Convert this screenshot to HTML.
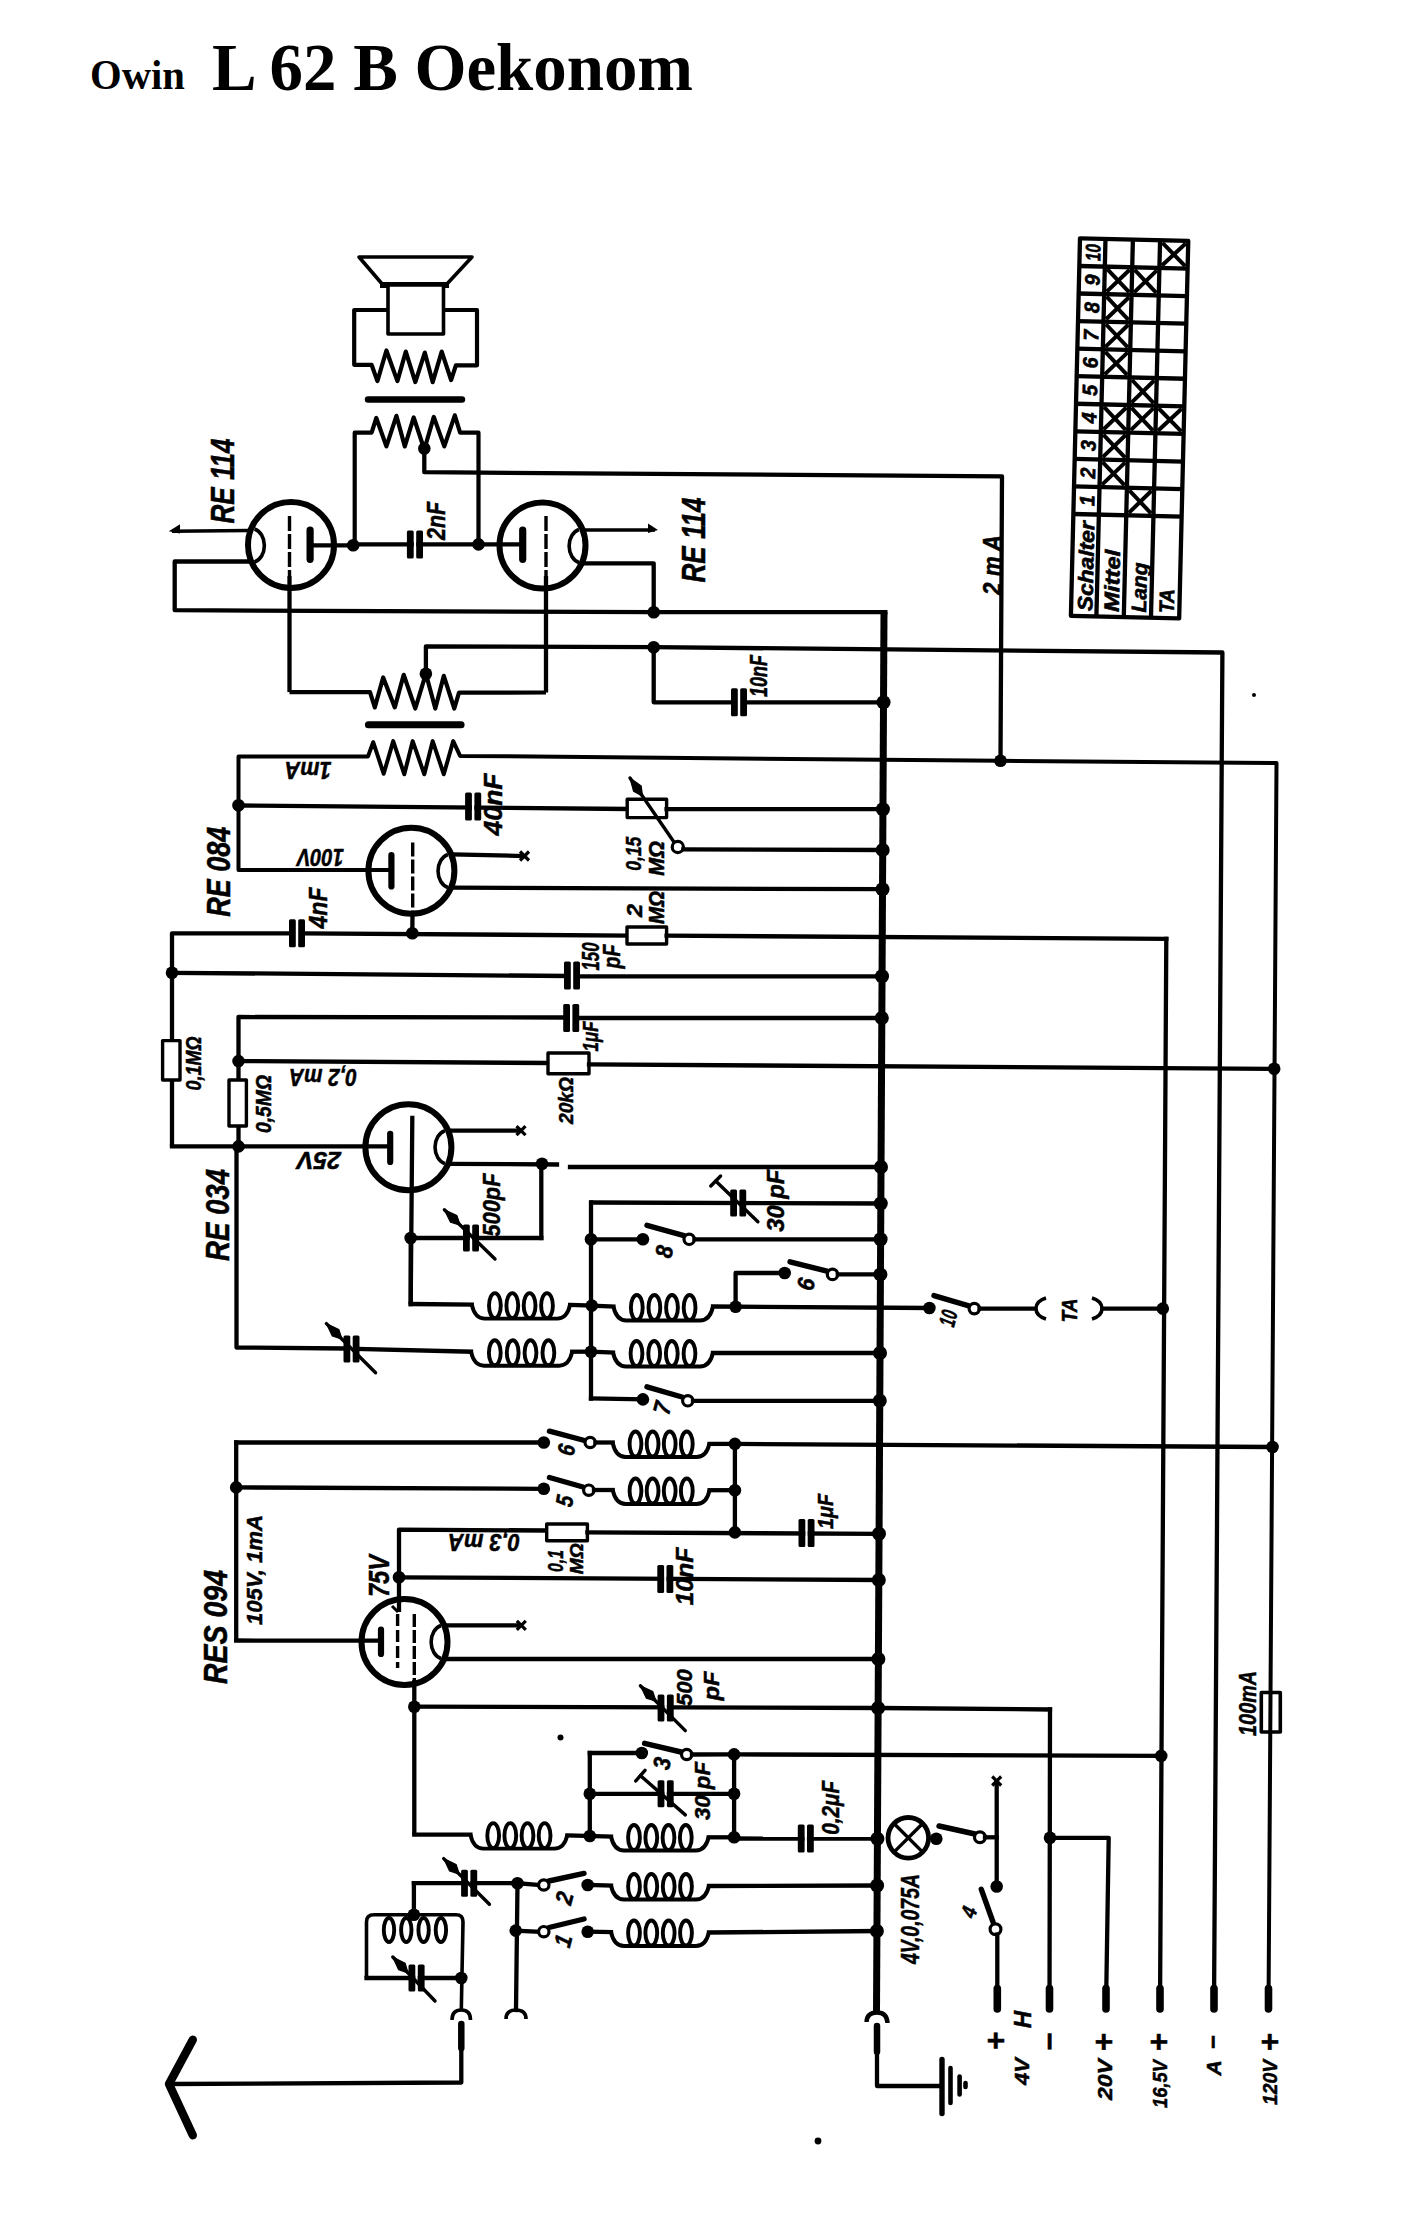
<!DOCTYPE html><html><head><meta charset="utf-8"><style>html,body{margin:0;padding:0;background:#fff;overflow:hidden}svg{display:block}</style></head><body><svg width="1424" height="2216" viewBox="0 0 1424 2216"><rect width="1424" height="2216" fill="#fff"/><g fill="none" stroke="#000" stroke-linejoin="round"><text x="90" y="89" font-family="Liberation Serif" font-weight="bold" font-size="42" textLength="95" lengthAdjust="spacingAndGlyphs" stroke="none" fill="#000">Owin</text>
<text x="212" y="90" font-family="Liberation Serif" font-weight="bold" font-size="68" textLength="481" lengthAdjust="spacingAndGlyphs" stroke="none" fill="#000">L 62 B Oekonom</text>
<polygon points="359,257 472,257 446,285 383,285" stroke-width="3.6" stroke-linecap="square"/>
<line x1="383" y1="285" x2="446" y2="285" stroke-width="6" stroke-linecap="square"/>
<rect x="388" y="285" width="55.5" height="49" fill="#fff" stroke-width="3.6"/>
<polyline points="388,310 354.2,310 354.2,364.8 371.6,364.8 377.4,381.1 386.4,350.5 397.4,381.1 405.8,351.6 415.3,382.1 424.8,352.6 432.7,382.1 441.7,351.6 451.1,380 455.9,365.3 477,365.3 477,310 443.5,310" stroke-width="4.2" stroke-linecap="butt"/>
<line x1="368" y1="399.5" x2="462" y2="399.5" stroke-width="6.4" stroke-linecap="round"/>
<polyline points="354.7,544.4 354.7,432.7 371.6,432.7 376.3,418 386.4,446.4 396.4,415.8 404.8,446.4 413.7,417.4 424.3,449.5 433.8,416.9 444.3,446.4 454.8,415.3 460.1,432.7 478.5,432.7 478.5,544.4" stroke-width="4.2" stroke-linecap="butt"/>
<circle cx="424.3" cy="448.5" r="6.3" fill="#000" stroke="none"/>
<polyline points="424.3,448.5 424.3,472.2 1002,476.3 1000.5,760.8" stroke-width="4.3" stroke-linecap="butt"/>
<circle cx="291" cy="545" r="43" fill="none" stroke-width="6"/>
<line x1="289.5" y1="516" x2="289.5" y2="576" stroke-width="3.4" stroke-dasharray="15 3"/>
<line x1="289.5" y1="576" x2="289.5" y2="692.1" stroke-width="4.3" stroke-linecap="butt"/>
<line x1="310.1" y1="530" x2="310.1" y2="559.3" stroke-width="7.2" stroke-linecap="round"/>
<line x1="313" y1="545.3" x2="353.2" y2="545.3" stroke-width="4.3" stroke-linecap="square"/>
<circle cx="353.2" cy="545.3" r="6.3" fill="#000" stroke="none"/>
<path d="M254.5,529 A13,17 0 0 1 254.5,562" stroke-width="3.6" fill="none" />
<line x1="249" y1="530.5" x2="172" y2="531.3" stroke-width="3.6" stroke-linecap="butt"/>
<polygon points="168.8,531.3 180,524.3 180,533.6" fill="#000" stroke="none"/>
<polyline points="249,561.5 174.7,561.5 174.7,610.2 653.7,612.2 887.5,612.2" stroke-width="4.3" stroke-linecap="butt"/>
<line x1="353.2" y1="544.4" x2="478.5" y2="544.4" stroke-width="4.3" stroke-linecap="square"/>
<rect x="413.8" y="540.4" width="2.4" height="8" fill="#fff" stroke="none"/>
<rect x="406.9" y="530.4" width="6.8" height="28" rx="1.5" fill="#000" stroke="none"/>
<rect x="416.2" y="530.4" width="6.8" height="28" rx="1.5" fill="#000" stroke="none"/>
<circle cx="478.5" cy="544.4" r="6.3" fill="#000" stroke="none"/>
<line x1="478.5" y1="544.4" x2="520" y2="544.4" stroke-width="4.3" stroke-linecap="square"/>
<circle cx="542.5" cy="545.5" r="43" fill="none" stroke-width="6"/>
<line x1="546" y1="516" x2="546" y2="576" stroke-width="3.4" stroke-dasharray="15 3"/>
<line x1="546" y1="576" x2="546" y2="692.5" stroke-width="4.3" stroke-linecap="butt"/>
<line x1="522.7" y1="530" x2="522.7" y2="559.3" stroke-width="7.2" stroke-linecap="round"/>
<path d="M579,529.5 A13,17 0 0 0 579,562.5" stroke-width="3.6" fill="none" />
<line x1="583" y1="530" x2="655" y2="530" stroke-width="3.6" stroke-linecap="butt"/>
<polygon points="658,530 648,523.5 648,533" fill="#000" stroke="none"/>
<polyline points="583,563.3 653.7,563.3 653.7,612.2" stroke-width="4.3" stroke-linecap="butt"/>
<circle cx="653.7" cy="612.2" r="6.3" fill="#000" stroke="none"/>
<polyline points="289.5,692.1 370,692.1 374.8,707.4 383.2,677.4 394.8,707.4 403.7,674.8 415.3,708.5 425.9,673.7 435.3,708.5 443.8,675.8 454.3,708.5 459,692.7 546,692.5" stroke-width="4.2" stroke-linecap="butt"/>
<circle cx="425.9" cy="673.7" r="6.3" fill="#000" stroke="none"/>
<polyline points="425.9,673.7 425.9,646.3 653.7,647.2 1222.4,652.5 1214,2008" stroke-width="4.3" stroke-linecap="butt"/>
<circle cx="653.7" cy="647.2" r="6.3" fill="#000" stroke="none"/>
<polyline points="653.7,647.2 653.7,702.3 734.3,702.3" stroke-width="4.3" stroke-linecap="butt"/>
<rect x="737.8" y="698.3" width="2.4" height="8" fill="#fff" stroke="none"/>
<rect x="731" y="688.3" width="6.8" height="28" rx="1.5" fill="#000" stroke="none"/>
<rect x="740.2" y="688.3" width="6.8" height="28" rx="1.5" fill="#000" stroke="none"/>
<line x1="743.8" y1="702.3" x2="883" y2="702.3" stroke-width="4.3" stroke-linecap="square"/>
<circle cx="883.5" cy="702.3" r="7" fill="#000" stroke="none"/>
<line x1="368.4" y1="724.8" x2="461.1" y2="724.8" stroke-width="7" stroke-linecap="round"/>
<polyline points="390,870.1 238.5,870.1 238.5,756.4 368,756.4 373.2,742.2 383.7,773.8 393.2,741.1 404.3,774.3 412.7,741.1 424.3,774.3 432.7,741.1 443.8,774.3 453.2,741.1 460.1,755.9 1000.5,760.8 1276.5,763 1268.5,2008" stroke-width="4" stroke-linecap="butt"/>
<circle cx="1000.5" cy="760.8" r="6.3" fill="#000" stroke="none"/>
<line x1="884" y1="612.2" x2="876.5" y2="2012" stroke-width="7" stroke-linecap="butt"/>
<circle cx="238.5" cy="805.3" r="6.3" fill="#000" stroke="none"/>
<line x1="238.5" y1="805.5" x2="627" y2="809" stroke-width="4.3" stroke-linecap="square"/>
<rect x="471.9" y="802.5" width="2.4" height="8" fill="#fff" stroke="none"/>
<rect x="465.1" y="792.5" width="6.8" height="28" rx="1.5" fill="#000" stroke="none"/>
<rect x="474.4" y="792.5" width="6.8" height="28" rx="1.5" fill="#000" stroke="none"/>
<rect x="627.2" y="799.3" width="39.4" height="18.3" fill="#fff" stroke-width="3.4"/>
<line x1="666.6" y1="809.2" x2="883" y2="809.2" stroke-width="4.3" stroke-linecap="square"/>
<circle cx="882.9" cy="809.2" r="7" fill="#000" stroke="none"/>
<line x1="630" y1="778" x2="673.6" y2="841.5" stroke-width="3.4" stroke-linecap="round"/>
<polygon points="630,778 641.2,786.1 642.5,796.1 633.6,791.3" fill="#000" stroke="#000" stroke-width="1.2"/>
<circle cx="677.8" cy="847" r="5.6" fill="#fff" stroke-width="3.2"/>
<line x1="683.4" y1="849.3" x2="883" y2="850" stroke-width="4.3" stroke-linecap="square"/>
<circle cx="882.7" cy="850" r="7" fill="#000" stroke="none"/>
<circle cx="411.4" cy="870.7" r="43" fill="none" stroke-width="6"/>
<line x1="391.4" y1="855" x2="391.4" y2="886.4" stroke-width="6.2" stroke-linecap="round"/>
<line x1="412.7" y1="842.4" x2="412.7" y2="914" stroke-width="3.4" stroke-dasharray="14 3"/>
<line x1="412.5" y1="914" x2="412.3" y2="933.3" stroke-width="4.3" stroke-linecap="butt"/>
<path d="M447.9,854.5 A13,17 0 0 0 447.9,887.5" stroke-width="3.6" fill="none" />
<line x1="452.7" y1="854.4" x2="522.8" y2="856" stroke-width="4.3" stroke-linecap="square"/>
<line x1="520" y1="851.5" x2="529" y2="860.5" stroke-width="3.2" stroke-linecap="butt"/>
<line x1="520" y1="860.5" x2="529" y2="851.5" stroke-width="3.2" stroke-linecap="butt"/>
<line x1="453" y1="887.7" x2="883" y2="889.2" stroke-width="4.3" stroke-linecap="square"/>
<circle cx="882.5" cy="889.2" r="7" fill="#000" stroke="none"/>
<circle cx="412.3" cy="933.3" r="6.3" fill="#000" stroke="none"/>
<polyline points="172,1146.4 172,933.3 290.6,933.3" stroke-width="4.3" stroke-linecap="butt"/>
<rect x="295.8" y="929.3" width="2.4" height="8" fill="#fff" stroke="none"/>
<rect x="289" y="919.3" width="6.8" height="28" rx="1.5" fill="#000" stroke="none"/>
<rect x="298.2" y="919.3" width="6.8" height="28" rx="1.5" fill="#000" stroke="none"/>
<line x1="303.3" y1="933.3" x2="627" y2="935.6" stroke-width="4.3" stroke-linecap="square"/>
<rect x="627" y="927" width="39.6" height="17" fill="#fff" stroke-width="3.4"/>
<line x1="666.6" y1="935.6" x2="1166.3" y2="938.9" stroke-width="4.3" stroke-linecap="square"/>
<line x1="1166.3" y1="938.9" x2="1160" y2="2008" stroke-width="4.3" stroke-linecap="square"/>
<circle cx="172" cy="972.8" r="6.3" fill="#000" stroke="none"/>
<line x1="172" y1="972.8" x2="567.2" y2="976" stroke-width="4.3" stroke-linecap="square"/>
<rect x="570.8" y="971.5" width="2.4" height="8" fill="#fff" stroke="none"/>
<rect x="564" y="961.5" width="6.8" height="28" rx="1.5" fill="#000" stroke="none"/>
<rect x="573.2" y="961.5" width="6.8" height="28" rx="1.5" fill="#000" stroke="none"/>
<line x1="576.7" y1="976.3" x2="883" y2="976.3" stroke-width="4.3" stroke-linecap="square"/>
<circle cx="882" cy="976.3" r="7" fill="#000" stroke="none"/>
<polyline points="238.5,1146.4 238.5,1017 565.6,1017.5" stroke-width="4.3" stroke-linecap="butt"/>
<rect x="570" y="1014" width="2.4" height="8" fill="#fff" stroke="none"/>
<rect x="563.2" y="1004" width="6.8" height="28" rx="1.5" fill="#000" stroke="none"/>
<rect x="572.4" y="1004" width="6.8" height="28" rx="1.5" fill="#000" stroke="none"/>
<line x1="576.7" y1="1018" x2="881.5" y2="1018" stroke-width="4.3" stroke-linecap="square"/>
<circle cx="881.8" cy="1018" r="7" fill="#000" stroke="none"/>
<rect x="162.6" y="1040.6" width="17.4" height="39.4" fill="#fff" stroke-width="3.4"/>
<rect x="229" y="1080" width="17.4" height="46" fill="#fff" stroke-width="3.4"/>
<circle cx="238.5" cy="1061.1" r="6.3" fill="#000" stroke="none"/>
<line x1="238.5" y1="1061.1" x2="548" y2="1063" stroke-width="4.3" stroke-linecap="square"/>
<rect x="548" y="1053" width="41" height="20.8" fill="#fff" stroke-width="3.4"/>
<line x1="589" y1="1064.4" x2="1274.2" y2="1068.8" stroke-width="4.3" stroke-linecap="square"/>
<circle cx="1274.2" cy="1068.8" r="6.3" fill="#000" stroke="none"/>
<circle cx="238.5" cy="1146.4" r="6.3" fill="#000" stroke="none"/>
<circle cx="408.4" cy="1147.2" r="43" fill="none" stroke-width="6"/>
<line x1="390.2" y1="1133.8" x2="390.2" y2="1162" stroke-width="6.2" stroke-linecap="round"/>
<line x1="172" y1="1146.4" x2="387" y2="1146.4" stroke-width="4.3" stroke-linecap="square"/>
<line x1="412.3" y1="1118" x2="410.7" y2="1304" stroke-width="4.3" stroke-linecap="square"/>
<path d="M444.9,1130.7 A13,17 0 0 0 444.9,1163.7" stroke-width="3.6" fill="none" />
<line x1="451" y1="1130.6" x2="519" y2="1130.6" stroke-width="4.3" stroke-linecap="square"/>
<line x1="516.5" y1="1126.1" x2="525.5" y2="1135.1" stroke-width="3.2" stroke-linecap="butt"/>
<line x1="516.5" y1="1135.1" x2="525.5" y2="1126.1" stroke-width="3.2" stroke-linecap="butt"/>
<line x1="449" y1="1163.8" x2="557" y2="1164.5" stroke-width="4.3" stroke-linecap="square"/>
<circle cx="542" cy="1163.8" r="6.3" fill="#000" stroke="none"/>
<line x1="570" y1="1167" x2="881.5" y2="1167" stroke-width="4.3" stroke-linecap="square"/>
<circle cx="881" cy="1167" r="7" fill="#000" stroke="none"/>
<line x1="541.3" y1="1163.8" x2="541.3" y2="1238" stroke-width="4.3" stroke-linecap="square"/>
<circle cx="410.7" cy="1238" r="6.3" fill="#000" stroke="none"/>
<line x1="410.7" y1="1238" x2="541.3" y2="1238" stroke-width="4.3" stroke-linecap="square"/>
<rect x="469.8" y="1234" width="2.4" height="8" fill="#fff" stroke="none"/>
<rect x="463" y="1224.5" width="6.8" height="27" rx="1.5" fill="#000" stroke="none"/>
<rect x="472.2" y="1224.5" width="6.8" height="27" rx="1.5" fill="#000" stroke="none"/>
<line x1="444.4" y1="1209.8" x2="495" y2="1259" stroke-width="3.4" stroke-linecap="round"/>
<polygon points="444.4,1209.8 456.9,1215.6 460.2,1225.1 450.5,1222.2" fill="#000" stroke="#000" stroke-width="1.2"/>
<line x1="592" y1="1202.5" x2="881.5" y2="1203.5" stroke-width="4.3" stroke-linecap="square"/>
<circle cx="880.8" cy="1203.5" r="7" fill="#000" stroke="none"/>
<rect x="737" y="1199" width="2.4" height="8" fill="#fff" stroke="none"/>
<rect x="730.2" y="1189.5" width="6.8" height="27" rx="1.5" fill="#000" stroke="none"/>
<rect x="739.4" y="1189.5" width="6.8" height="27" rx="1.5" fill="#000" stroke="none"/>
<line x1="715.7" y1="1181" x2="757.9" y2="1221.7" stroke-width="3.4" stroke-linecap="round"/>
<line x1="720.6" y1="1176" x2="710.8" y2="1186" stroke-width="3.4" stroke-linecap="round"/>
<line x1="591" y1="1202.5" x2="591" y2="1398.5" stroke-width="4.3" stroke-linecap="square"/>
<circle cx="591" cy="1239.3" r="6.3" fill="#000" stroke="none"/>
<line x1="591" y1="1239.3" x2="642.9" y2="1239.3" stroke-width="4.3" stroke-linecap="square"/>
<circle cx="642.9" cy="1239.3" r="6.3" fill="#000" stroke="none"/>
<line x1="647" y1="1225.3" x2="684" y2="1235.6" stroke-width="5.4" stroke-linecap="round"/>
<circle cx="689.2" cy="1239.3" r="5.2" fill="#fff" stroke-width="3.2"/>
<line x1="694.5" y1="1239.3" x2="880.2" y2="1239.3" stroke-width="4.3" stroke-linecap="square"/>
<circle cx="880.6" cy="1239.3" r="7" fill="#000" stroke="none"/>
<line x1="410.7" y1="1304" x2="471.8" y2="1304.6" stroke-width="4.3" stroke-linecap="square"/>
<path d="M471.8,1304.6 L471.8,1304.6 Q474.8,1318.6 484.8,1318.6 L557.1,1318.6 Q567.1,1318.6 570.1,1304.6 L570.1,1304.6" stroke-width="3.9" fill="none" />
<ellipse cx="494.9" cy="1305.6" rx="5.9" ry="12.5" fill="none" stroke-width="3.9"/>
<ellipse cx="512.3" cy="1305.6" rx="5.9" ry="12.5" fill="none" stroke-width="3.9"/>
<ellipse cx="529.6" cy="1305.6" rx="5.9" ry="12.5" fill="none" stroke-width="3.9"/>
<ellipse cx="547" cy="1305.6" rx="5.9" ry="12.5" fill="none" stroke-width="3.9"/>
<line x1="570.1" y1="1305" x2="591.8" y2="1305.6" stroke-width="4.3" stroke-linecap="square"/>
<circle cx="591.8" cy="1305.6" r="6.3" fill="#000" stroke="none"/>
<path d="M613.4,1306.5 L613.4,1306.5 Q616.4,1320.5 626.4,1320.5 L700,1320.5 Q710,1320.5 713,1306.5 L713,1306.5" stroke-width="3.9" fill="none" />
<ellipse cx="636.8" cy="1307.5" rx="5.9" ry="12.5" fill="none" stroke-width="3.9"/>
<ellipse cx="654.4" cy="1307.5" rx="5.9" ry="12.5" fill="none" stroke-width="3.9"/>
<ellipse cx="672" cy="1307.5" rx="5.9" ry="12.5" fill="none" stroke-width="3.9"/>
<ellipse cx="689.6" cy="1307.5" rx="5.9" ry="12.5" fill="none" stroke-width="3.9"/>
<line x1="591.8" y1="1305.6" x2="613.4" y2="1306.5" stroke-width="4.3" stroke-linecap="square"/>
<line x1="713" y1="1306.5" x2="929.4" y2="1308" stroke-width="4.3" stroke-linecap="square"/>
<circle cx="735.6" cy="1306.7" r="6.3" fill="#000" stroke="none"/>
<polyline points="735.6,1306.7 735.6,1273 784.7,1273" stroke-width="4.3" stroke-linecap="butt"/>
<circle cx="784.7" cy="1273" r="6.3" fill="#000" stroke="none"/>
<line x1="790" y1="1261.8" x2="827" y2="1271.2" stroke-width="5.4" stroke-linecap="round"/>
<circle cx="832.5" cy="1274.4" r="5.2" fill="#fff" stroke-width="3.2"/>
<line x1="837.8" y1="1274.4" x2="880.2" y2="1274.4" stroke-width="4.3" stroke-linecap="square"/>
<circle cx="880.4" cy="1274.4" r="7" fill="#000" stroke="none"/>
<circle cx="929.4" cy="1308" r="6.3" fill="#000" stroke="none"/>
<line x1="934" y1="1295.6" x2="968" y2="1305.6" stroke-width="5.4" stroke-linecap="round"/>
<circle cx="974.3" cy="1308.6" r="5.2" fill="#fff" stroke-width="3.2"/>
<line x1="979.6" y1="1308.6" x2="1034.5" y2="1308.6" stroke-width="4.3" stroke-linecap="square"/>
<path d="M1046,1298 Q1036,1301 1036,1308.6 Q1036,1316 1046,1319" stroke-width="3.6" fill="none" />
<path d="M1092,1298 Q1102,1301 1102,1308.6 Q1102,1316 1092,1319" stroke-width="3.6" fill="none" />
<line x1="1102.5" y1="1308.6" x2="1162.8" y2="1308.6" stroke-width="4.3" stroke-linecap="square"/>
<circle cx="1162.8" cy="1308.6" r="6.3" fill="#000" stroke="none"/>
<polyline points="410.7,1304 410.7,1238" stroke-width="4.3" stroke-linecap="butt"/>
<polyline points="236.5,1146.4 236.5,1347.5 346,1348.5" stroke-width="4.3" stroke-linecap="butt"/>
<rect x="350.3" y="1345" width="2.4" height="8" fill="#fff" stroke="none"/>
<rect x="343.5" y="1335.5" width="6.8" height="27" rx="1.5" fill="#000" stroke="none"/>
<rect x="352.7" y="1335.5" width="6.8" height="27" rx="1.5" fill="#000" stroke="none"/>
<line x1="326.4" y1="1323.6" x2="375.6" y2="1372.8" stroke-width="3.4" stroke-linecap="round"/>
<polygon points="326.4,1323.6 338.8,1329.5 342,1339.2 332.3,1336" fill="#000" stroke="#000" stroke-width="1.2"/>
<line x1="357" y1="1349" x2="471" y2="1351.7" stroke-width="4.3" stroke-linecap="square"/>
<path d="M471,1351.7 L471,1351.7 Q474,1365.7 484,1365.7 L559.2,1365.7 Q569.2,1365.7 572.2,1351.7 L572.2,1351.7" stroke-width="3.9" fill="none" />
<ellipse cx="494.8" cy="1352.7" rx="5.9" ry="12.5" fill="none" stroke-width="3.9"/>
<ellipse cx="512.7" cy="1352.7" rx="5.9" ry="12.5" fill="none" stroke-width="3.9"/>
<ellipse cx="530.5" cy="1352.7" rx="5.9" ry="12.5" fill="none" stroke-width="3.9"/>
<ellipse cx="548.4" cy="1352.7" rx="5.9" ry="12.5" fill="none" stroke-width="3.9"/>
<line x1="572.2" y1="1351.7" x2="591" y2="1351.7" stroke-width="4.3" stroke-linecap="square"/>
<circle cx="591" cy="1351.7" r="6.3" fill="#000" stroke="none"/>
<line x1="591" y1="1351.7" x2="613" y2="1352.5" stroke-width="4.3" stroke-linecap="square"/>
<path d="M613,1352.5 L613,1352.5 Q616,1366.5 626,1366.5 L700,1366.5 Q710,1366.5 713,1352.5 L713,1352.5" stroke-width="3.9" fill="none" />
<ellipse cx="636.5" cy="1353.5" rx="5.9" ry="12.5" fill="none" stroke-width="3.9"/>
<ellipse cx="654.2" cy="1353.5" rx="5.9" ry="12.5" fill="none" stroke-width="3.9"/>
<ellipse cx="671.8" cy="1353.5" rx="5.9" ry="12.5" fill="none" stroke-width="3.9"/>
<ellipse cx="689.5" cy="1353.5" rx="5.9" ry="12.5" fill="none" stroke-width="3.9"/>
<line x1="713" y1="1353" x2="880.2" y2="1353" stroke-width="4.3" stroke-linecap="square"/>
<circle cx="880" cy="1353" r="7" fill="#000" stroke="none"/>
<line x1="591" y1="1398.5" x2="642.9" y2="1399.4" stroke-width="4.3" stroke-linecap="square"/>
<circle cx="642.9" cy="1399.4" r="6.3" fill="#000" stroke="none"/>
<line x1="647" y1="1386.8" x2="682" y2="1397" stroke-width="5.4" stroke-linecap="round"/>
<circle cx="687.8" cy="1400.8" r="5.2" fill="#fff" stroke-width="3.2"/>
<line x1="693" y1="1400.8" x2="880.2" y2="1400.8" stroke-width="4.3" stroke-linecap="square"/>
<circle cx="879.8" cy="1400.8" r="7" fill="#000" stroke="none"/>
<line x1="236.2" y1="1442.5" x2="543.8" y2="1442.5" stroke-width="4.3" stroke-linecap="square"/>
<line x1="236.2" y1="1442.5" x2="236.2" y2="1639" stroke-width="4.3" stroke-linecap="square"/>
<circle cx="543.8" cy="1442.5" r="6.3" fill="#000" stroke="none"/>
<line x1="549.5" y1="1431.2" x2="584.5" y2="1440.5" stroke-width="5.4" stroke-linecap="round"/>
<circle cx="590.2" cy="1442.5" r="5.2" fill="#fff" stroke-width="3.2"/>
<line x1="595.5" y1="1442.5" x2="612.7" y2="1442.5" stroke-width="4.3" stroke-linecap="square"/>
<path d="M612.7,1443 L612.7,1443 Q615.7,1457 625.7,1457 L696.6,1457 Q706.6,1457 709.6,1443 L709.6,1443" stroke-width="3.9" fill="none" />
<ellipse cx="635.5" cy="1444" rx="5.9" ry="12.5" fill="none" stroke-width="3.9"/>
<ellipse cx="652.6" cy="1444" rx="5.9" ry="12.5" fill="none" stroke-width="3.9"/>
<ellipse cx="669.7" cy="1444" rx="5.9" ry="12.5" fill="none" stroke-width="3.9"/>
<ellipse cx="686.8" cy="1444" rx="5.9" ry="12.5" fill="none" stroke-width="3.9"/>
<line x1="709.6" y1="1443.9" x2="734.9" y2="1443.9" stroke-width="4.3" stroke-linecap="square"/>
<circle cx="734.9" cy="1443.9" r="6.3" fill="#000" stroke="none"/>
<line x1="734.9" y1="1443.9" x2="1272.5" y2="1447" stroke-width="4.3" stroke-linecap="square"/>
<circle cx="1272.5" cy="1447" r="6.3" fill="#000" stroke="none"/>
<circle cx="236.2" cy="1487.4" r="6.3" fill="#000" stroke="none"/>
<line x1="236.2" y1="1487.4" x2="543.8" y2="1488.8" stroke-width="4.3" stroke-linecap="square"/>
<circle cx="543.8" cy="1488.8" r="6.3" fill="#000" stroke="none"/>
<line x1="549.5" y1="1477.5" x2="583" y2="1487" stroke-width="5.4" stroke-linecap="round"/>
<circle cx="588.8" cy="1490.2" r="5.2" fill="#fff" stroke-width="3.2"/>
<line x1="594" y1="1490" x2="612.7" y2="1490" stroke-width="4.3" stroke-linecap="square"/>
<path d="M612.7,1490 L612.7,1490 Q615.7,1504 625.7,1504 L696.6,1504 Q706.6,1504 709.6,1490 L709.6,1490" stroke-width="3.9" fill="none" />
<ellipse cx="635.5" cy="1491" rx="5.9" ry="12.5" fill="none" stroke-width="3.9"/>
<ellipse cx="652.6" cy="1491" rx="5.9" ry="12.5" fill="none" stroke-width="3.9"/>
<ellipse cx="669.7" cy="1491" rx="5.9" ry="12.5" fill="none" stroke-width="3.9"/>
<ellipse cx="686.8" cy="1491" rx="5.9" ry="12.5" fill="none" stroke-width="3.9"/>
<line x1="709.6" y1="1490.2" x2="734.9" y2="1490.2" stroke-width="4.3" stroke-linecap="square"/>
<circle cx="734.9" cy="1490.2" r="6.3" fill="#000" stroke="none"/>
<line x1="734.9" y1="1443.9" x2="734.9" y2="1532.4" stroke-width="4.3" stroke-linecap="square"/>
<circle cx="734.9" cy="1532.4" r="6.3" fill="#000" stroke="none"/>
<polyline points="399,1598 399,1529.6 546.7,1530.5" stroke-width="4.3" stroke-linecap="butt"/>
<rect x="546.7" y="1524" width="40.7" height="16.8" fill="#fff" stroke-width="3.4"/>
<line x1="587.4" y1="1532.4" x2="879.6" y2="1533.8" stroke-width="4.3" stroke-linecap="square"/>
<rect x="805.3" y="1529" width="2.4" height="8" fill="#fff" stroke="none"/>
<rect x="798.5" y="1519" width="6.8" height="28" rx="1.5" fill="#000" stroke="none"/>
<rect x="807.7" y="1519" width="6.8" height="28" rx="1.5" fill="#000" stroke="none"/>
<circle cx="879" cy="1533.8" r="7" fill="#000" stroke="none"/>
<circle cx="399" cy="1577.3" r="6.3" fill="#000" stroke="none"/>
<line x1="399" y1="1577.3" x2="879.6" y2="1580" stroke-width="4.3" stroke-linecap="square"/>
<rect x="664.1" y="1575" width="2.4" height="8" fill="#fff" stroke="none"/>
<rect x="657.3" y="1565" width="6.8" height="28" rx="1.5" fill="#000" stroke="none"/>
<rect x="666.5" y="1565" width="6.8" height="28" rx="1.5" fill="#000" stroke="none"/>
<circle cx="878.8" cy="1580" r="7" fill="#000" stroke="none"/>
<circle cx="404.5" cy="1642" r="43" fill="none" stroke-width="6"/>
<line x1="381" y1="1629.5" x2="381" y2="1654" stroke-width="6.2" stroke-linecap="round"/>
<line x1="236.2" y1="1640.5" x2="378" y2="1640.7" stroke-width="4.3" stroke-linecap="square"/>
<line x1="399" y1="1598" x2="399" y2="1612" stroke-width="4.3" stroke-linecap="butt"/>
<path d="M392,1606 L398,1612" stroke-width="3" fill="none" />
<line x1="397.6" y1="1614" x2="397.6" y2="1668" stroke-width="3.4" stroke-dasharray="12 4"/>
<line x1="414.3" y1="1614" x2="414.3" y2="1680" stroke-width="3.4" stroke-dasharray="13 3"/>
<line x1="414.3" y1="1680" x2="414.3" y2="1834.6" stroke-width="4.3" stroke-linecap="butt"/>
<path d="M441,1625.5 A13,17 0 0 0 441,1658.5" stroke-width="3.6" fill="none" />
<line x1="448" y1="1625.3" x2="519" y2="1625.3" stroke-width="4.3" stroke-linecap="square"/>
<line x1="516.8" y1="1620.8" x2="525.8" y2="1629.8" stroke-width="3.2" stroke-linecap="butt"/>
<line x1="516.8" y1="1629.8" x2="525.8" y2="1620.8" stroke-width="3.2" stroke-linecap="butt"/>
<line x1="446" y1="1659" x2="879" y2="1659" stroke-width="4.3" stroke-linecap="square"/>
<circle cx="878.4" cy="1659" r="7" fill="#000" stroke="none"/>
<circle cx="414.3" cy="1706.7" r="6.3" fill="#000" stroke="none"/>
<line x1="414.3" y1="1706.7" x2="878.8" y2="1708" stroke-width="4.3" stroke-linecap="square"/>
<rect x="664.4" y="1704" width="2.4" height="8" fill="#fff" stroke="none"/>
<rect x="657.6" y="1694.5" width="6.8" height="27" rx="1.5" fill="#000" stroke="none"/>
<rect x="666.9" y="1694.5" width="6.8" height="27" rx="1.5" fill="#000" stroke="none"/>
<line x1="640.4" y1="1685.7" x2="685.3" y2="1730.6" stroke-width="3.4" stroke-linecap="round"/>
<polygon points="640.4,1685.7 652.8,1691.6 656,1701.3 646.3,1698.1" fill="#000" stroke="#000" stroke-width="1.2"/>
<circle cx="878.1" cy="1708" r="7" fill="#000" stroke="none"/>
<line x1="878.8" y1="1708" x2="1050" y2="1709.5" stroke-width="4.3" stroke-linecap="square"/>
<line x1="1050" y1="1709.5" x2="1049.5" y2="2008" stroke-width="4.3" stroke-linecap="square"/>
<line x1="589.8" y1="1753" x2="641.8" y2="1753" stroke-width="4.3" stroke-linecap="square"/>
<line x1="589.8" y1="1753" x2="589.8" y2="1836" stroke-width="4.3" stroke-linecap="square"/>
<circle cx="641.8" cy="1753" r="6.3" fill="#000" stroke="none"/>
<line x1="644.6" y1="1743.3" x2="681" y2="1752" stroke-width="5.4" stroke-linecap="round"/>
<circle cx="686.7" cy="1754.5" r="5.2" fill="#fff" stroke-width="3.2"/>
<line x1="692" y1="1754.5" x2="734.1" y2="1754.4" stroke-width="4.3" stroke-linecap="square"/>
<circle cx="734.1" cy="1754.4" r="6.3" fill="#000" stroke="none"/>
<line x1="734.1" y1="1754.4" x2="1161.2" y2="1755.9" stroke-width="4.3" stroke-linecap="square"/>
<circle cx="1161.2" cy="1755.9" r="6.3" fill="#000" stroke="none"/>
<circle cx="589.8" cy="1793.8" r="6.3" fill="#000" stroke="none"/>
<line x1="589.8" y1="1793.8" x2="734.1" y2="1793.8" stroke-width="4.3" stroke-linecap="square"/>
<rect x="664.4" y="1789.8" width="2.4" height="8" fill="#fff" stroke="none"/>
<rect x="657.6" y="1780.3" width="6.8" height="27" rx="1.5" fill="#000" stroke="none"/>
<rect x="666.9" y="1780.3" width="6.8" height="27" rx="1.5" fill="#000" stroke="none"/>
<line x1="640.4" y1="1775.6" x2="685.3" y2="1814.9" stroke-width="3.4" stroke-linecap="round"/>
<line x1="645" y1="1770.3" x2="635.8" y2="1780.9" stroke-width="3.4" stroke-linecap="round"/>
<circle cx="734.1" cy="1793.8" r="6.3" fill="#000" stroke="none"/>
<line x1="734.1" y1="1754.4" x2="734.1" y2="1837.3" stroke-width="4.3" stroke-linecap="square"/>
<line x1="414.3" y1="1834.6" x2="470.4" y2="1834.6" stroke-width="4.3" stroke-linecap="square"/>
<path d="M470.4,1834.6 L470.4,1834.6 Q473.4,1848.6 483.4,1848.6 L554.4,1848.6 Q564.4,1848.6 567.4,1834.6 L567.4,1834.6" stroke-width="3.9" fill="none" />
<ellipse cx="493.2" cy="1835.6" rx="5.9" ry="12.5" fill="none" stroke-width="3.9"/>
<ellipse cx="510.3" cy="1835.6" rx="5.9" ry="12.5" fill="none" stroke-width="3.9"/>
<ellipse cx="527.5" cy="1835.6" rx="5.9" ry="12.5" fill="none" stroke-width="3.9"/>
<ellipse cx="544.6" cy="1835.6" rx="5.9" ry="12.5" fill="none" stroke-width="3.9"/>
<line x1="567.4" y1="1835.5" x2="611" y2="1836.5" stroke-width="4.3" stroke-linecap="square"/>
<circle cx="589.8" cy="1836" r="6.3" fill="#000" stroke="none"/>
<path d="M611,1836.5 L611,1836.5 Q614,1850.5 624,1850.5 L695.8,1850.5 Q705.8,1850.5 708.8,1836.5 L708.8,1836.5" stroke-width="3.9" fill="none" />
<ellipse cx="634" cy="1837.5" rx="5.9" ry="12.5" fill="none" stroke-width="3.9"/>
<ellipse cx="651.3" cy="1837.5" rx="5.9" ry="12.5" fill="none" stroke-width="3.9"/>
<ellipse cx="668.5" cy="1837.5" rx="5.9" ry="12.5" fill="none" stroke-width="3.9"/>
<ellipse cx="685.8" cy="1837.5" rx="5.9" ry="12.5" fill="none" stroke-width="3.9"/>
<line x1="708.8" y1="1837.3" x2="734.1" y2="1837.3" stroke-width="4.3" stroke-linecap="square"/>
<circle cx="734.1" cy="1837.3" r="6.3" fill="#000" stroke="none"/>
<line x1="734.1" y1="1838.5" x2="878.8" y2="1838.7" stroke-width="4.3" stroke-linecap="square"/>
<rect x="804.5" y="1834.5" width="2.4" height="8" fill="#fff" stroke="none"/>
<rect x="797.8" y="1824.5" width="6.8" height="28" rx="1.5" fill="#000" stroke="none"/>
<rect x="807" y="1824.5" width="6.8" height="28" rx="1.5" fill="#000" stroke="none"/>
<circle cx="877.4" cy="1838.7" r="7" fill="#000" stroke="none"/>
<circle cx="908.3" cy="1837.8" r="20.3" fill="#fff" stroke-width="4.8"/>
<line x1="894.2" y1="1823.7" x2="922.4" y2="1851.9" stroke-width="3.4" stroke-linecap="butt"/>
<line x1="894.2" y1="1851.9" x2="922.4" y2="1823.7" stroke-width="3.4" stroke-linecap="butt"/>
<circle cx="936.3" cy="1838.7" r="6.3" fill="#000" stroke="none"/>
<line x1="939" y1="1826" x2="975" y2="1834" stroke-width="5.4" stroke-linecap="round"/>
<circle cx="979.9" cy="1837.3" r="5.4" fill="#fff" stroke-width="3.2"/>
<line x1="985" y1="1837.3" x2="996.7" y2="1837.3" stroke-width="4.3" stroke-linecap="square"/>
<line x1="996.7" y1="1782" x2="996.7" y2="1886.5" stroke-width="4.3" stroke-linecap="square"/>
<line x1="992.2" y1="1776.5" x2="1001.2" y2="1785.5" stroke-width="3.2" stroke-linecap="butt"/>
<line x1="992.2" y1="1785.5" x2="1001.2" y2="1776.5" stroke-width="3.2" stroke-linecap="butt"/>
<circle cx="996.7" cy="1886.5" r="6.3" fill="#000" stroke="none"/>
<line x1="981.3" y1="1889.3" x2="993" y2="1922" stroke-width="5.4" stroke-linecap="round"/>
<circle cx="995.5" cy="1929.3" r="5.4" fill="#fff" stroke-width="3.2"/>
<line x1="997.3" y1="1934.5" x2="997.3" y2="2008" stroke-width="4.3" stroke-linecap="square"/>
<circle cx="1050" cy="1837.8" r="6.3" fill="#000" stroke="none"/>
<polyline points="1050,1837.8 1108.7,1837.8 1106,2008" stroke-width="4.3" stroke-linecap="butt"/>
<rect x="1261.3" y="1692.5" width="19" height="39.5" fill="none" stroke-width="3.6"/>
<line x1="413.9" y1="1883.2" x2="517.5" y2="1883.2" stroke-width="4.3" stroke-linecap="square"/>
<rect x="467.9" y="1879.2" width="2.4" height="8" fill="#fff" stroke="none"/>
<rect x="461.1" y="1869.7" width="6.8" height="27" rx="1.5" fill="#000" stroke="none"/>
<rect x="470.4" y="1869.7" width="6.8" height="27" rx="1.5" fill="#000" stroke="none"/>
<line x1="443.7" y1="1858.6" x2="489.4" y2="1904.3" stroke-width="3.4" stroke-linecap="round"/>
<polygon points="443.7,1858.6 456.1,1864.5 459.3,1874.2 449.6,1871" fill="#000" stroke="#000" stroke-width="1.2"/>
<circle cx="517.5" cy="1883.2" r="6.3" fill="#000" stroke="none"/>
<line x1="517.5" y1="1883.2" x2="538.5" y2="1885" stroke-width="4.3" stroke-linecap="square"/>
<circle cx="543.8" cy="1885" r="5.2" fill="#fff" stroke-width="3.2"/>
<line x1="549" y1="1881" x2="584" y2="1873.4" stroke-width="5.4" stroke-linecap="round"/>
<circle cx="587.7" cy="1885" r="6.3" fill="#000" stroke="none"/>
<line x1="587.7" y1="1885" x2="611" y2="1885.5" stroke-width="4.3" stroke-linecap="square"/>
<path d="M611,1885.5 L611,1885.5 Q614,1899.5 624,1899.5 L696,1899.5 Q706,1899.5 709,1885.5 L709,1885.5" stroke-width="3.9" fill="none" />
<ellipse cx="634" cy="1886.5" rx="5.9" ry="12.5" fill="none" stroke-width="3.9"/>
<ellipse cx="651.3" cy="1886.5" rx="5.9" ry="12.5" fill="none" stroke-width="3.9"/>
<ellipse cx="668.7" cy="1886.5" rx="5.9" ry="12.5" fill="none" stroke-width="3.9"/>
<ellipse cx="686" cy="1886.5" rx="5.9" ry="12.5" fill="none" stroke-width="3.9"/>
<line x1="709" y1="1886" x2="876.8" y2="1885.5" stroke-width="4.3" stroke-linecap="square"/>
<circle cx="877.1" cy="1885.5" r="7" fill="#000" stroke="none"/>
<circle cx="515.7" cy="1930.6" r="6.3" fill="#000" stroke="none"/>
<line x1="515.7" y1="1930.6" x2="538.5" y2="1931.7" stroke-width="4.3" stroke-linecap="square"/>
<circle cx="543.8" cy="1931.7" r="5.2" fill="#fff" stroke-width="3.2"/>
<line x1="549" y1="1927.5" x2="584" y2="1919" stroke-width="5.4" stroke-linecap="round"/>
<circle cx="587.7" cy="1931.7" r="6.3" fill="#000" stroke="none"/>
<line x1="587.7" y1="1931.7" x2="611" y2="1932" stroke-width="4.3" stroke-linecap="square"/>
<path d="M611,1932 L611,1932 Q614,1946 624,1946 L696,1946 Q706,1946 709,1932 L709,1932" stroke-width="3.9" fill="none" />
<ellipse cx="634" cy="1933" rx="5.9" ry="12.5" fill="none" stroke-width="3.9"/>
<ellipse cx="651.3" cy="1933" rx="5.9" ry="12.5" fill="none" stroke-width="3.9"/>
<ellipse cx="668.7" cy="1933" rx="5.9" ry="12.5" fill="none" stroke-width="3.9"/>
<ellipse cx="686" cy="1933" rx="5.9" ry="12.5" fill="none" stroke-width="3.9"/>
<line x1="709" y1="1932.5" x2="876.8" y2="1931" stroke-width="4.3" stroke-linecap="square"/>
<circle cx="876.9" cy="1931" r="7" fill="#000" stroke="none"/>
<line x1="517.5" y1="1883.2" x2="516" y2="2010" stroke-width="4.3" stroke-linecap="square"/>
<path d="M506,2019 Q506,2010 516,2010 Q526,2010 526,2019" stroke-width="3.6" fill="none" />
<line x1="413.9" y1="1883.2" x2="413.9" y2="1914.8" stroke-width="4.3" stroke-linecap="square"/>
<circle cx="413.9" cy="1914.8" r="6.3" fill="#000" stroke="none"/>
<path d="M366.5,1978 L366.5,1922 Q366.5,1914.8 374,1914.8 L456,1914.8 Q463,1914.8 463,1922 L461.3,2010" stroke-width="3.6" fill="none" />
<ellipse cx="389" cy="1930" rx="5.2" ry="12" fill="none" stroke-width="3.9"/>
<ellipse cx="406.3" cy="1930" rx="5.2" ry="12" fill="none" stroke-width="3.9"/>
<ellipse cx="423.6" cy="1930" rx="5.2" ry="12" fill="none" stroke-width="3.9"/>
<ellipse cx="440.9" cy="1930" rx="5.2" ry="12" fill="none" stroke-width="3.9"/>
<line x1="366.5" y1="1978" x2="461.3" y2="1978" stroke-width="4.3" stroke-linecap="square"/>
<rect x="415.3" y="1974" width="2.4" height="8" fill="#fff" stroke="none"/>
<rect x="408.5" y="1964.5" width="6.8" height="27" rx="1.5" fill="#000" stroke="none"/>
<rect x="417.8" y="1964.5" width="6.8" height="27" rx="1.5" fill="#000" stroke="none"/>
<line x1="392.8" y1="1957" x2="435" y2="2001" stroke-width="3.4" stroke-linecap="round"/>
<polygon points="392.8,1957 405.1,1963.2 408,1972.9 398.5,1969.6" fill="#000" stroke="#000" stroke-width="1.2"/>
<circle cx="461.3" cy="1978" r="6.3" fill="#000" stroke="none"/>
<path d="M452,2020 Q452,2010 461.3,2010 Q470.5,2010 470.5,2020" stroke-width="3.6" fill="none" />
<line x1="461.3" y1="2024" x2="461.3" y2="2048" stroke-width="6.5" stroke-linecap="round"/>
<polyline points="461.3,2048 461.3,2082.5 168.5,2084" stroke-width="4.3" stroke-linecap="butt"/>
<polyline points="192.8,2039.7 169,2084 192.8,2135.2" stroke-width="8.4" stroke-linecap="round"/>
<path d="M866.5,2022 Q867,2012.5 877,2012.5 Q887,2012.5 887.5,2023" stroke-width="4.4" fill="none" />
<line x1="877" y1="2026" x2="877" y2="2051.7" stroke-width="6.5" stroke-linecap="round"/>
<polyline points="877,2051.7 877,2086 942,2086" stroke-width="4.3" stroke-linecap="butt"/>
<line x1="942" y1="2059.5" x2="942" y2="2113.5" stroke-width="5.4" stroke-linecap="round"/>
<line x1="950.5" y1="2068" x2="950.5" y2="2103" stroke-width="4.6" stroke-linecap="round"/>
<line x1="959.6" y1="2076.5" x2="959.6" y2="2094.5" stroke-width="4.6" stroke-linecap="round"/>
<line x1="965.5" y1="2083" x2="965.5" y2="2087" stroke-width="4.6" stroke-linecap="round"/>
<line x1="997.3" y1="1988.5" x2="997.3" y2="2009" stroke-width="7.6" stroke-linecap="round"/>
<line x1="1049.5" y1="1988.5" x2="1049.5" y2="2009" stroke-width="7.6" stroke-linecap="round"/>
<line x1="1106" y1="1988.5" x2="1106" y2="2009" stroke-width="7.6" stroke-linecap="round"/>
<line x1="1160" y1="1988.5" x2="1160" y2="2009" stroke-width="7.6" stroke-linecap="round"/>
<line x1="1214" y1="1988.5" x2="1214" y2="2009" stroke-width="7.6" stroke-linecap="round"/>
<line x1="1268.5" y1="1988.5" x2="1268.5" y2="2009" stroke-width="7.6" stroke-linecap="round"/>
<circle cx="818" cy="2141" r="3.4" fill="#000" stroke="none"/>
<circle cx="560.5" cy="1737.5" r="3" fill="#000" stroke="none"/>
<circle cx="1254" cy="695" r="2" fill="#000" stroke="none"/>
<text x="222.5" y="481" font-size="33" font-family="Liberation Sans" font-weight="bold" font-style="italic" text-anchor="middle" dominant-baseline="central" textLength="85" lengthAdjust="spacingAndGlyphs" transform="rotate(-90 222.5 481)" stroke="#000" stroke-width="0.5" fill="#000" >RE 114</text>
<text x="693" y="540" font-size="33" font-family="Liberation Sans" font-weight="bold" font-style="italic" text-anchor="middle" dominant-baseline="central" textLength="85" lengthAdjust="spacingAndGlyphs" transform="rotate(-90 693 540)" stroke="#000" stroke-width="0.5" fill="#000" >RE 114</text>
<text x="436" y="521" font-size="26.4" font-family="Liberation Sans" font-weight="bold" font-style="italic" text-anchor="middle" dominant-baseline="central" textLength="38" lengthAdjust="spacingAndGlyphs" transform="rotate(-90 436 521)" stroke="#000" stroke-width="0.5" fill="#000" >2nF</text>
<text x="758" y="676" font-size="24" font-family="Liberation Sans" font-weight="bold" font-style="italic" text-anchor="middle" dominant-baseline="central" textLength="42" lengthAdjust="spacingAndGlyphs" transform="rotate(-90 758 676)" stroke="#000" stroke-width="0.5" fill="#000" >10nF</text>
<text x="992" y="565" font-size="26.4" font-family="Liberation Sans" font-weight="bold" font-style="italic" text-anchor="middle" dominant-baseline="central" textLength="60" lengthAdjust="spacingAndGlyphs" transform="rotate(-90 992 565)" stroke="#000" stroke-width="0.5" fill="#000" >2 m A</text>
<text x="308" y="770.5" font-size="24" font-family="Liberation Sans" font-weight="bold" font-style="italic" text-anchor="middle" dominant-baseline="central" textLength="47" lengthAdjust="spacingAndGlyphs" transform="rotate(180 308 770.5)" stroke="#000" stroke-width="0.5" fill="#000" >1mA</text>
<text x="493" y="804.4" font-size="26.4" font-family="Liberation Sans" font-weight="bold" font-style="italic" text-anchor="middle" dominant-baseline="central" textLength="62" lengthAdjust="spacingAndGlyphs" transform="rotate(-90 493 804.4)" stroke="#000" stroke-width="0.5" fill="#000" >40nF</text>
<text x="320.5" y="857" font-size="24" font-family="Liberation Sans" font-weight="bold" font-style="italic" text-anchor="middle" dominant-baseline="central" textLength="47" lengthAdjust="spacingAndGlyphs" transform="rotate(180 320.5 857)" stroke="#000" stroke-width="0.5" fill="#000" >100V</text>
<text x="219.5" y="871.7" font-size="32.4" font-family="Liberation Sans" font-weight="bold" font-style="italic" text-anchor="middle" dominant-baseline="central" textLength="90" lengthAdjust="spacingAndGlyphs" transform="rotate(-90 219.5 871.7)" stroke="#000" stroke-width="0.5" fill="#000" >RE 084</text>
<text x="317.5" y="908" font-size="26.4" font-family="Liberation Sans" font-weight="bold" font-style="italic" text-anchor="middle" dominant-baseline="central" textLength="41" lengthAdjust="spacingAndGlyphs" transform="rotate(-90 317.5 908)" stroke="#000" stroke-width="0.5" fill="#000" >4nF</text>
<text x="633.4" y="853.7" font-size="21.6" font-family="Liberation Sans" font-weight="bold" font-style="italic" text-anchor="middle" dominant-baseline="central" textLength="34" lengthAdjust="spacingAndGlyphs" transform="rotate(-90 633.4 853.7)" stroke="#000" stroke-width="0.5" fill="#000" >0,15</text>
<text x="656" y="858.5" font-size="21.6" font-family="Liberation Sans" font-weight="bold" font-style="italic" text-anchor="middle" dominant-baseline="central" textLength="35" lengthAdjust="spacingAndGlyphs" transform="rotate(-90 656 858.5)" stroke="#000" stroke-width="0.5" fill="#000" >MΩ</text>
<text x="635" y="910.4" font-size="21.6" font-family="Liberation Sans" font-weight="bold" font-style="italic" text-anchor="middle" dominant-baseline="central" textLength="13" lengthAdjust="spacingAndGlyphs" transform="rotate(-90 635 910.4)" stroke="#000" stroke-width="0.5" fill="#000" >2</text>
<text x="656" y="907.5" font-size="21.6" font-family="Liberation Sans" font-weight="bold" font-style="italic" text-anchor="middle" dominant-baseline="central" textLength="33" lengthAdjust="spacingAndGlyphs" transform="rotate(-90 656 907.5)" stroke="#000" stroke-width="0.5" fill="#000" >MΩ</text>
<text x="603.5" y="956.5" font-size="24" font-family="Liberation Sans" font-weight="bold" font-style="italic" text-anchor="middle" dominant-baseline="central" textLength="28" lengthAdjust="spacingAndGlyphs" transform="rotate(-90 603.5 956.5)" stroke="#000" stroke-width="0.5" fill="#000" dy="-13">150</text>
<text x="603.5" y="956.5" font-size="24" font-family="Liberation Sans" font-weight="bold" font-style="italic" text-anchor="middle" dominant-baseline="central" textLength="24" lengthAdjust="spacingAndGlyphs" transform="rotate(-90 603.5 956.5)" stroke="#000" stroke-width="0.5" fill="#000" dy="8">pF</text>
<text x="590" y="1036.5" font-size="21.6" font-family="Liberation Sans" font-weight="bold" font-style="italic" text-anchor="middle" dominant-baseline="central" textLength="30" lengthAdjust="spacingAndGlyphs" transform="rotate(-90 590 1036.5)" stroke="#000" stroke-width="0.5" fill="#000" >1μF</text>
<text x="193.5" y="1063.5" font-size="22.2" font-family="Liberation Sans" font-weight="bold" font-style="italic" text-anchor="middle" dominant-baseline="central" textLength="54" lengthAdjust="spacingAndGlyphs" transform="rotate(-90 193.5 1063.5)" stroke="#000" stroke-width="0.5" fill="#000" >0,1MΩ</text>
<text x="263" y="1104" font-size="22.2" font-family="Liberation Sans" font-weight="bold" font-style="italic" text-anchor="middle" dominant-baseline="central" textLength="58" lengthAdjust="spacingAndGlyphs" transform="rotate(-90 263 1104)" stroke="#000" stroke-width="0.5" fill="#000" >0,5MΩ</text>
<text x="323" y="1077" font-size="24" font-family="Liberation Sans" font-weight="bold" font-style="italic" text-anchor="middle" dominant-baseline="central" textLength="68" lengthAdjust="spacingAndGlyphs" transform="rotate(180 323 1077)" stroke="#000" stroke-width="0.5" fill="#000" >0,2 mA</text>
<text x="566.3" y="1100.5" font-size="20.4" font-family="Liberation Sans" font-weight="bold" font-style="italic" text-anchor="middle" dominant-baseline="central" textLength="47" lengthAdjust="spacingAndGlyphs" transform="rotate(-90 566.3 1100.5)" stroke="#000" stroke-width="0.5" fill="#000" >20kΩ</text>
<text x="319" y="1160.7" font-size="24" font-family="Liberation Sans" font-weight="bold" font-style="italic" text-anchor="middle" dominant-baseline="central" textLength="44" lengthAdjust="spacingAndGlyphs" transform="rotate(180 319 1160.7)" stroke="#000" stroke-width="0.5" fill="#000" >25V</text>
<text x="217.5" y="1215" font-size="32.4" font-family="Liberation Sans" font-weight="bold" font-style="italic" text-anchor="middle" dominant-baseline="central" textLength="92" lengthAdjust="spacingAndGlyphs" transform="rotate(-90 217.5 1215)" stroke="#000" stroke-width="0.5" fill="#000" >RE 034</text>
<text x="491.5" y="1205" font-size="24" font-family="Liberation Sans" font-weight="bold" font-style="italic" text-anchor="middle" dominant-baseline="central" textLength="63" lengthAdjust="spacingAndGlyphs" transform="rotate(-90 491.5 1205)" stroke="#000" stroke-width="0.5" fill="#000" >500pF</text>
<text x="776" y="1200.7" font-size="24" font-family="Liberation Sans" font-weight="bold" font-style="italic" text-anchor="middle" dominant-baseline="central" textLength="62" lengthAdjust="spacingAndGlyphs" transform="rotate(-90 776 1200.7)" stroke="#000" stroke-width="0.5" fill="#000" >30 pF</text>
<text x="664" y="1251.7" font-size="24" font-family="Liberation Sans" font-weight="bold" font-style="italic" text-anchor="middle" dominant-baseline="central" textLength="12" lengthAdjust="spacingAndGlyphs" transform="rotate(-80 664 1251.7)" stroke="#000" stroke-width="0.5" fill="#000" >8</text>
<text x="806.2" y="1283.4" font-size="24" font-family="Liberation Sans" font-weight="bold" font-style="italic" text-anchor="middle" dominant-baseline="central" textLength="12" lengthAdjust="spacingAndGlyphs" transform="rotate(100 806.2 1283.4)" stroke="#000" stroke-width="0.5" fill="#000" >9</text>
<text x="948" y="1318.2" font-size="22.8" font-family="Liberation Sans" font-weight="bold" font-style="italic" text-anchor="middle" dominant-baseline="central" textLength="16" lengthAdjust="spacingAndGlyphs" transform="rotate(-75 948 1318.2)" stroke="#000" stroke-width="0.5" fill="#000" >10</text>
<text x="1068.5" y="1310.5" font-size="22.8" font-family="Liberation Sans" font-weight="bold" font-style="italic" text-anchor="middle" dominant-baseline="central" textLength="24" lengthAdjust="spacingAndGlyphs" transform="rotate(-90 1068.5 1310.5)" stroke="#000" stroke-width="0.5" fill="#000" >TA</text>
<text x="662" y="1408" font-size="24" font-family="Liberation Sans" font-weight="bold" font-style="italic" text-anchor="middle" dominant-baseline="central" textLength="12" lengthAdjust="spacingAndGlyphs" transform="rotate(-75 662 1408)" stroke="#000" stroke-width="0.5" fill="#000" >7</text>
<text x="566.2" y="1449.8" font-size="24" font-family="Liberation Sans" font-weight="bold" font-style="italic" text-anchor="middle" dominant-baseline="central" textLength="11" lengthAdjust="spacingAndGlyphs" transform="rotate(-80 566.2 1449.8)" stroke="#000" stroke-width="0.5" fill="#000" >6</text>
<text x="564.3" y="1500.9" font-size="24" font-family="Liberation Sans" font-weight="bold" font-style="italic" text-anchor="middle" dominant-baseline="central" textLength="11" lengthAdjust="spacingAndGlyphs" transform="rotate(-80 564.3 1500.9)" stroke="#000" stroke-width="0.5" fill="#000" >5</text>
<text x="254.4" y="1570" font-size="22.8" font-family="Liberation Sans" font-weight="bold" font-style="italic" text-anchor="middle" dominant-baseline="central" textLength="110" lengthAdjust="spacingAndGlyphs" transform="rotate(-90 254.4 1570)" stroke="#000" stroke-width="0.5" fill="#000" >105V, 1mA</text>
<text x="215.5" y="1627" font-size="32.4" font-family="Liberation Sans" font-weight="bold" font-style="italic" text-anchor="middle" dominant-baseline="central" textLength="114" lengthAdjust="spacingAndGlyphs" transform="rotate(-90 215.5 1627)" stroke="#000" stroke-width="0.5" fill="#000" >RES 094</text>
<text x="484" y="1542" font-size="24" font-family="Liberation Sans" font-weight="bold" font-style="italic" text-anchor="middle" dominant-baseline="central" textLength="72" lengthAdjust="spacingAndGlyphs" transform="rotate(180 484 1542)" stroke="#000" stroke-width="0.5" fill="#000" >0,3 mA</text>
<text x="554.7" y="1561" font-size="22.8" font-family="Liberation Sans" font-weight="bold" font-style="italic" text-anchor="middle" dominant-baseline="central" textLength="22" lengthAdjust="spacingAndGlyphs" transform="rotate(-90 554.7 1561)" stroke="#000" stroke-width="0.5" fill="#000" >0,1</text>
<text x="577.5" y="1558.8" font-size="18" font-family="Liberation Sans" font-weight="bold" font-style="italic" text-anchor="middle" dominant-baseline="central" textLength="31" lengthAdjust="spacingAndGlyphs" transform="rotate(-90 577.5 1558.8)" stroke="#000" stroke-width="0.5" fill="#000" >MΩ</text>
<text x="825" y="1511.5" font-size="22.8" font-family="Liberation Sans" font-weight="bold" font-style="italic" text-anchor="middle" dominant-baseline="central" textLength="35" lengthAdjust="spacingAndGlyphs" transform="rotate(-90 825 1511.5)" stroke="#000" stroke-width="0.5" fill="#000" >1μF</text>
<text x="684.4" y="1576.6" font-size="24" font-family="Liberation Sans" font-weight="bold" font-style="italic" text-anchor="middle" dominant-baseline="central" textLength="58" lengthAdjust="spacingAndGlyphs" transform="rotate(-90 684.4 1576.6)" stroke="#000" stroke-width="0.5" fill="#000" >10nF</text>
<text x="379.4" y="1576" font-size="28.8" font-family="Liberation Sans" font-weight="bold" font-style="italic" text-anchor="middle" dominant-baseline="central" textLength="42" lengthAdjust="spacingAndGlyphs" transform="rotate(-90 379.4 1576)" stroke="#000" stroke-width="0.5" fill="#000" >75V</text>
<text x="685" y="1687.6" font-size="22.2" font-family="Liberation Sans" font-weight="bold" font-style="italic" text-anchor="middle" dominant-baseline="central" textLength="37" lengthAdjust="spacingAndGlyphs" transform="rotate(-90 685 1687.6)" stroke="#000" stroke-width="0.5" fill="#000" >500</text>
<text x="711" y="1686" font-size="22.2" font-family="Liberation Sans" font-weight="bold" font-style="italic" text-anchor="middle" dominant-baseline="central" textLength="29" lengthAdjust="spacingAndGlyphs" transform="rotate(-90 711 1686)" stroke="#000" stroke-width="0.5" fill="#000" >pF</text>
<text x="661.6" y="1763.4" font-size="24" font-family="Liberation Sans" font-weight="bold" font-style="italic" text-anchor="middle" dominant-baseline="central" textLength="12" lengthAdjust="spacingAndGlyphs" transform="rotate(-80 661.6 1763.4)" stroke="#000" stroke-width="0.5" fill="#000" >3</text>
<text x="702" y="1791" font-size="22.2" font-family="Liberation Sans" font-weight="bold" font-style="italic" text-anchor="middle" dominant-baseline="central" textLength="58" lengthAdjust="spacingAndGlyphs" transform="rotate(-90 702 1791)" stroke="#000" stroke-width="0.5" fill="#000" >30 pF</text>
<text x="830.9" y="1807.7" font-size="24" font-family="Liberation Sans" font-weight="bold" font-style="italic" text-anchor="middle" dominant-baseline="central" textLength="54" lengthAdjust="spacingAndGlyphs" transform="rotate(-90 830.9 1807.7)" stroke="#000" stroke-width="0.5" fill="#000" >0,2μF</text>
<text x="909.7" y="1919" font-size="26.4" font-family="Liberation Sans" font-weight="bold" font-style="italic" text-anchor="middle" dominant-baseline="central" textLength="90" lengthAdjust="spacingAndGlyphs" transform="rotate(-90 909.7 1919)" stroke="#000" stroke-width="0.5" fill="#000" >4V,0,075A</text>
<text x="969" y="1912" font-size="21.6" font-family="Liberation Sans" font-weight="bold" font-style="italic" text-anchor="middle" dominant-baseline="central" textLength="10" lengthAdjust="spacingAndGlyphs" transform="rotate(-70 969 1912)" stroke="#000" stroke-width="0.5" fill="#000" >4</text>
<text x="564.2" y="1897.9" font-size="24" font-family="Liberation Sans" font-weight="bold" font-style="italic" text-anchor="middle" dominant-baseline="central" textLength="12" lengthAdjust="spacingAndGlyphs" transform="rotate(-75 564.2 1897.9)" stroke="#000" stroke-width="0.5" fill="#000" >2</text>
<text x="562.8" y="1940.8" font-size="24" font-family="Liberation Sans" font-weight="bold" font-style="italic" text-anchor="middle" dominant-baseline="central" textLength="12" lengthAdjust="spacingAndGlyphs" transform="rotate(-75 562.8 1940.8)" stroke="#000" stroke-width="0.5" fill="#000" >1</text>
<text x="1247.7" y="1703.4" font-size="24" font-family="Liberation Sans" font-weight="bold" font-style="italic" text-anchor="middle" dominant-baseline="central" textLength="65" lengthAdjust="spacingAndGlyphs" transform="rotate(-90 1247.7 1703.4)" stroke="#000" stroke-width="0.5" fill="#000" >100mA</text>
<text x="995.5" y="2040.7" font-size="31.2" font-family="Liberation Sans" font-weight="bold" font-style="normal" text-anchor="middle" dominant-baseline="central" transform="rotate(-90 995.5 2040.7)" stroke="#000" stroke-width="0.5" fill="#000" >+</text>
<text x="1021.5" y="2071.5" font-size="21" font-family="Liberation Sans" font-weight="bold" font-style="italic" text-anchor="middle" dominant-baseline="central" textLength="27" lengthAdjust="spacingAndGlyphs" transform="rotate(-90 1021.5 2071.5)" stroke="#000" stroke-width="0.5" fill="#000" >4V</text>
<text x="1022.9" y="2019.5" font-size="24" font-family="Liberation Sans" font-weight="bold" font-style="italic" text-anchor="middle" dominant-baseline="central" transform="rotate(-90 1022.9 2019.5)" stroke="#000" stroke-width="0.5" fill="#000" >H</text>
<text x="1049.5" y="2041.5" font-size="31.2" font-family="Liberation Sans" font-weight="bold" font-style="normal" text-anchor="middle" dominant-baseline="central" transform="rotate(-90 1049.5 2041.5)" stroke="#000" stroke-width="0.5" fill="#000" >−</text>
<text x="1103" y="2042" font-size="31.2" font-family="Liberation Sans" font-weight="bold" font-style="normal" text-anchor="middle" dominant-baseline="central" transform="rotate(-90 1103 2042)" stroke="#000" stroke-width="0.5" fill="#000" >+</text>
<text x="1104" y="2079.5" font-size="21" font-family="Liberation Sans" font-weight="bold" font-style="italic" text-anchor="middle" dominant-baseline="central" textLength="41" lengthAdjust="spacingAndGlyphs" transform="rotate(-90 1104 2079.5)" stroke="#000" stroke-width="0.5" fill="#000" >20V</text>
<text x="1158" y="2042" font-size="31.2" font-family="Liberation Sans" font-weight="bold" font-style="normal" text-anchor="middle" dominant-baseline="central" transform="rotate(-90 1158 2042)" stroke="#000" stroke-width="0.5" fill="#000" >+</text>
<text x="1159" y="2084" font-size="21" font-family="Liberation Sans" font-weight="bold" font-style="italic" text-anchor="middle" dominant-baseline="central" textLength="48" lengthAdjust="spacingAndGlyphs" transform="rotate(-90 1159 2084)" stroke="#000" stroke-width="0.5" fill="#000" >16,5V</text>
<text x="1212.8" y="2042" font-size="24" font-family="Liberation Sans" font-weight="bold" font-style="normal" text-anchor="middle" dominant-baseline="central" transform="rotate(-90 1212.8 2042)" stroke="#000" stroke-width="0.5" fill="#000" >−</text>
<text x="1213.5" y="2068" font-size="21" font-family="Liberation Sans" font-weight="bold" font-style="italic" text-anchor="middle" dominant-baseline="central" transform="rotate(-90 1213.5 2068)" stroke="#000" stroke-width="0.5" fill="#000" >A</text>
<text x="1269.4" y="2042" font-size="31.2" font-family="Liberation Sans" font-weight="bold" font-style="normal" text-anchor="middle" dominant-baseline="central" transform="rotate(-90 1269.4 2042)" stroke="#000" stroke-width="0.5" fill="#000" >+</text>
<text x="1269.5" y="2082.5" font-size="21" font-family="Liberation Sans" font-weight="bold" font-style="italic" text-anchor="middle" dominant-baseline="central" textLength="45" lengthAdjust="spacingAndGlyphs" transform="rotate(-90 1269.5 2082.5)" stroke="#000" stroke-width="0.5" fill="#000" >120V</text>
<g transform="translate(1080 238.4) rotate(1.38)"><rect x="0" y="0" width="108.3" height="377.5" fill="none" stroke-width="4.3"/><line x1="25.5" y1="0" x2="25.5" y2="377.5" stroke-width="4.3"/><line x1="52.9" y1="0" x2="52.9" y2="377.5" stroke-width="4.3"/><line x1="80.1" y1="0" x2="80.1" y2="377.5" stroke-width="4.3"/><line x1="0" y1="27.6" x2="108.3" y2="27.6" stroke-width="4.3"/><line x1="0" y1="55.1" x2="108.3" y2="55.1" stroke-width="4.3"/><line x1="0" y1="82.7" x2="108.3" y2="82.7" stroke-width="4.3"/><line x1="0" y1="110.3" x2="108.3" y2="110.3" stroke-width="4.3"/><line x1="0" y1="137.8" x2="108.3" y2="137.8" stroke-width="4.3"/><line x1="0" y1="165.4" x2="108.3" y2="165.4" stroke-width="4.3"/><line x1="0" y1="193" x2="108.3" y2="193" stroke-width="4.3"/><line x1="0" y1="220.6" x2="108.3" y2="220.6" stroke-width="4.3"/><line x1="0" y1="248.1" x2="108.3" y2="248.1" stroke-width="4.3"/><line x1="0" y1="275.7" x2="108.3" y2="275.7" stroke-width="4.3"/><text x="13.2" y="13.8" font-size="21" font-family="Liberation Sans" font-weight="bold" font-style="italic" text-anchor="middle" dominant-baseline="central" transform="rotate(-90 13.2 13.8)" stroke="#000" stroke-width="0.6" fill="#000" textLength="17" lengthAdjust="spacingAndGlyphs">10</text><line x1="82.6" y1="2.5" x2="105.8" y2="25.1" stroke-width="4"/><line x1="82.6" y1="25.1" x2="105.8" y2="2.5" stroke-width="4"/><text x="13.2" y="41.4" font-size="21" font-family="Liberation Sans" font-weight="bold" font-style="italic" text-anchor="middle" dominant-baseline="central" transform="rotate(-90 13.2 41.4)" stroke="#000" stroke-width="0.6" fill="#000" textLength="11" lengthAdjust="spacingAndGlyphs">9</text><line x1="28" y1="30.1" x2="50.4" y2="52.6" stroke-width="4"/><line x1="28" y1="52.6" x2="50.4" y2="30.1" stroke-width="4"/><line x1="55.4" y1="30.1" x2="77.6" y2="52.6" stroke-width="4"/><line x1="55.4" y1="52.6" x2="77.6" y2="30.1" stroke-width="4"/><text x="13.2" y="68.9" font-size="21" font-family="Liberation Sans" font-weight="bold" font-style="italic" text-anchor="middle" dominant-baseline="central" transform="rotate(-90 13.2 68.9)" stroke="#000" stroke-width="0.6" fill="#000" textLength="11" lengthAdjust="spacingAndGlyphs">8</text><line x1="28" y1="57.6" x2="50.4" y2="80.2" stroke-width="4"/><line x1="28" y1="80.2" x2="50.4" y2="57.6" stroke-width="4"/><text x="13.2" y="96.5" font-size="21" font-family="Liberation Sans" font-weight="bold" font-style="italic" text-anchor="middle" dominant-baseline="central" transform="rotate(-90 13.2 96.5)" stroke="#000" stroke-width="0.6" fill="#000" textLength="11" lengthAdjust="spacingAndGlyphs">7</text><line x1="28" y1="85.2" x2="50.4" y2="107.8" stroke-width="4"/><line x1="28" y1="107.8" x2="50.4" y2="85.2" stroke-width="4"/><text x="13.2" y="124.1" font-size="21" font-family="Liberation Sans" font-weight="bold" font-style="italic" text-anchor="middle" dominant-baseline="central" transform="rotate(-90 13.2 124.1)" stroke="#000" stroke-width="0.6" fill="#000" textLength="11" lengthAdjust="spacingAndGlyphs">6</text><line x1="28" y1="112.8" x2="50.4" y2="135.3" stroke-width="4"/><line x1="28" y1="135.3" x2="50.4" y2="112.8" stroke-width="4"/><text x="13.2" y="151.6" font-size="21" font-family="Liberation Sans" font-weight="bold" font-style="italic" text-anchor="middle" dominant-baseline="central" transform="rotate(-90 13.2 151.6)" stroke="#000" stroke-width="0.6" fill="#000" textLength="11" lengthAdjust="spacingAndGlyphs">5</text><line x1="55.4" y1="140.3" x2="77.6" y2="162.9" stroke-width="4"/><line x1="55.4" y1="162.9" x2="77.6" y2="140.3" stroke-width="4"/><text x="13.2" y="179.2" font-size="21" font-family="Liberation Sans" font-weight="bold" font-style="italic" text-anchor="middle" dominant-baseline="central" transform="rotate(-90 13.2 179.2)" stroke="#000" stroke-width="0.6" fill="#000" textLength="11" lengthAdjust="spacingAndGlyphs">4</text><line x1="28" y1="167.9" x2="50.4" y2="190.5" stroke-width="4"/><line x1="28" y1="190.5" x2="50.4" y2="167.9" stroke-width="4"/><line x1="55.4" y1="167.9" x2="77.6" y2="190.5" stroke-width="4"/><line x1="55.4" y1="190.5" x2="77.6" y2="167.9" stroke-width="4"/><line x1="82.6" y1="167.9" x2="105.8" y2="190.5" stroke-width="4"/><line x1="82.6" y1="190.5" x2="105.8" y2="167.9" stroke-width="4"/><text x="13.2" y="206.8" font-size="21" font-family="Liberation Sans" font-weight="bold" font-style="italic" text-anchor="middle" dominant-baseline="central" transform="rotate(-90 13.2 206.8)" stroke="#000" stroke-width="0.6" fill="#000" textLength="11" lengthAdjust="spacingAndGlyphs">3</text><line x1="28" y1="195.5" x2="50.4" y2="218.1" stroke-width="4"/><line x1="28" y1="218.1" x2="50.4" y2="195.5" stroke-width="4"/><text x="13.2" y="234.3" font-size="21" font-family="Liberation Sans" font-weight="bold" font-style="italic" text-anchor="middle" dominant-baseline="central" transform="rotate(-90 13.2 234.3)" stroke="#000" stroke-width="0.6" fill="#000" textLength="11" lengthAdjust="spacingAndGlyphs">2</text><line x1="28" y1="223.1" x2="50.4" y2="245.6" stroke-width="4"/><line x1="28" y1="245.6" x2="50.4" y2="223.1" stroke-width="4"/><text x="13.2" y="261.9" font-size="21" font-family="Liberation Sans" font-weight="bold" font-style="italic" text-anchor="middle" dominant-baseline="central" transform="rotate(-90 13.2 261.9)" stroke="#000" stroke-width="0.6" fill="#000" textLength="11" lengthAdjust="spacingAndGlyphs">1</text><line x1="55.4" y1="250.6" x2="77.6" y2="273.2" stroke-width="4"/><line x1="55.4" y1="273.2" x2="77.6" y2="250.6" stroke-width="4"/><text x="13.8" y="372.5" font-size="21" font-family="Liberation Sans" font-weight="bold" font-style="italic" text-anchor="start" dominant-baseline="central" transform="rotate(-90 13.8 372.5)" textLength="90" lengthAdjust="spacingAndGlyphs" stroke="#000" stroke-width="0.6" fill="#000">Schalter</text><text x="40.2" y="372.5" font-size="21" font-family="Liberation Sans" font-weight="bold" font-style="italic" text-anchor="start" dominant-baseline="central" transform="rotate(-90 40.2 372.5)" textLength="62" lengthAdjust="spacingAndGlyphs" stroke="#000" stroke-width="0.6" fill="#000">Mittel</text><text x="67.5" y="372.5" font-size="21" font-family="Liberation Sans" font-weight="bold" font-style="italic" text-anchor="start" dominant-baseline="central" transform="rotate(-90 67.5 372.5)" textLength="50" lengthAdjust="spacingAndGlyphs" stroke="#000" stroke-width="0.6" fill="#000">Lang</text><text x="95.2" y="372.5" font-size="21" font-family="Liberation Sans" font-weight="bold" font-style="italic" text-anchor="start" dominant-baseline="central" transform="rotate(-90 95.2 372.5)" textLength="24" lengthAdjust="spacingAndGlyphs" stroke="#000" stroke-width="0.6" fill="#000">TA</text></g></g></svg></body></html>
